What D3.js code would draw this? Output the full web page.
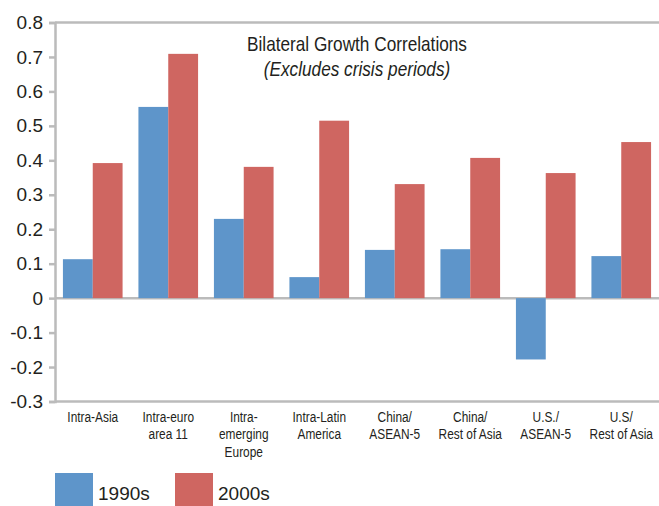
<html>
  <head>
    <meta charset="utf-8">
    <script src="https://cdn.jsdelivr.net/npm/d3@7"></script>
  </head>
  <body>
    <style>
      body{
        margin: 0;
        padding: 0;
        background-color: white;
      }
      text{
        fill: #231f20;
        font-family: "Liberation Sans", Arial, sans-serif;
      }
    </style>
    <div id="chart"></div>
    <script>
      // chart data
      var categories = [
        ["Intra-Asia"],
        ["Intra-euro", "area 11"],
        ["Intra-", "emerging", "Europe"],
        ["Intra-Latin", "America"],
        ["China/", "ASEAN-5"],
        ["China/", "Rest of Asia"],
        ["U.S./", "ASEAN-5"],
        ["U.S/", "Rest of Asia"]
      ];
      var series = ["1990s", "2000s"];
      var values1990s = [0.113, 0.555, 0.230, 0.061, 0.140, 0.142, -0.178, 0.122];
      var values2000s = [0.392, 0.709, 0.381, 0.515, 0.331, 0.407, 0.363, 0.453];
      var yTicks = [0.8, 0.7, 0.6, 0.5, 0.4, 0.3, 0.2, 0.1, 0, -0.1, -0.2, -0.3];
      var colors = ["#5e95ca", "#cf6661"];

      var W = 659, H = 506;
      var mLeft = 55, mRight = 659, mTop = 22.5, mBottom = 401.5;
      var SQUEEZE = 0.82; // fake a condensed face

      var svg = d3.select("#chart").append("svg")
        .attr("width", W).attr("height", H);

      function narrow(parent, x, y, size, anchor){
        var g = parent.append("g")
          .attr("transform", "translate(" + x + "," + y + ") scale(" + SQUEEZE + ",1)");
        return g.append("text").attr("text-anchor", anchor || "middle")
          .style("font-size", size + "px");
      }

      var y = d3.scaleLinear().domain([-0.3, 0.8]).range([mBottom, mTop]);
      var x0 = d3.scaleBand().domain(d3.range(categories.length))
        .range([mLeft, mRight]).paddingInner(0.21).paddingOuter(0.105);
      var x1 = d3.scaleBand().domain([0, 1]).range([0, x0.bandwidth()]);

      // frame lines (top, bottom, zero)
      var grey = "#bbbbbb";
      [0.8, -0.3, 0].forEach(function(v){
        svg.append("line")
          .attr("x1", mLeft).attr("x2", mRight)
          .attr("y1", y(v)).attr("y2", y(v))
          .attr("stroke", grey).attr("stroke-width", 2.5);
      });

      // bars
      var data = [values1990s, values2000s];
      data.forEach(function(vals, si){
        svg.append("g").selectAll("rect").data(vals).enter().append("rect")
          .attr("x", function(d, i){ return x0(i) + x1(si); })
          .attr("width", x1.bandwidth())
          .attr("y", function(d){ return y(Math.max(0, d)); })
          .attr("height", function(d){ return Math.abs(y(d) - y(0)); })
          .attr("fill", colors[si]);
      });

      // y axis
      var yAxis = d3.axisLeft(y).tickValues(yTicks)
        .tickFormat(function(d){ return d === 0 ? "0" : d.toFixed(1); })
        .tickSize(6).tickPadding(6);
      var ya = svg.append("g").attr("transform", "translate(" + mLeft + ",0)").call(yAxis);
      ya.select(".domain").attr("stroke", grey).attr("stroke-width", 2.5);
      ya.selectAll(".tick line").attr("stroke", grey).attr("stroke-width", 2.5);
      ya.selectAll(".tick text")
        .style("font-family", "'Liberation Sans', Arial, sans-serif")
        .style("font-size", "19px").attr("fill", "#231f20");

      // x labels
      categories.forEach(function(lines, i){
        var cx = x0(i) + x0.bandwidth() / 2;
        var t = narrow(svg, cx, 422, 14.5);
        lines.forEach(function(s, j){
          t.append("tspan").attr("x", 0)
            .attr("dy", j === 0 ? 0 : 17.5).text(s);
        });
      });

      // title
      narrow(svg, 357, 51, 21).text("Bilateral Growth Correlations");
      narrow(svg, 357, 76, 21).style("font-style", "italic")
        .text("(Excludes crisis periods)");

      // legend
      series.forEach(function(s, i){
        var lx = 55 + i * 120;
        svg.append("rect").attr("x", lx).attr("y", 473)
          .attr("width", 38).attr("height", 33).attr("fill", colors[i]);
        svg.append("text").attr("x", lx + 43).attr("y", 500)
          .style("font-size", "19px").text(s);
      });
    </script>
  </body>
</html>
